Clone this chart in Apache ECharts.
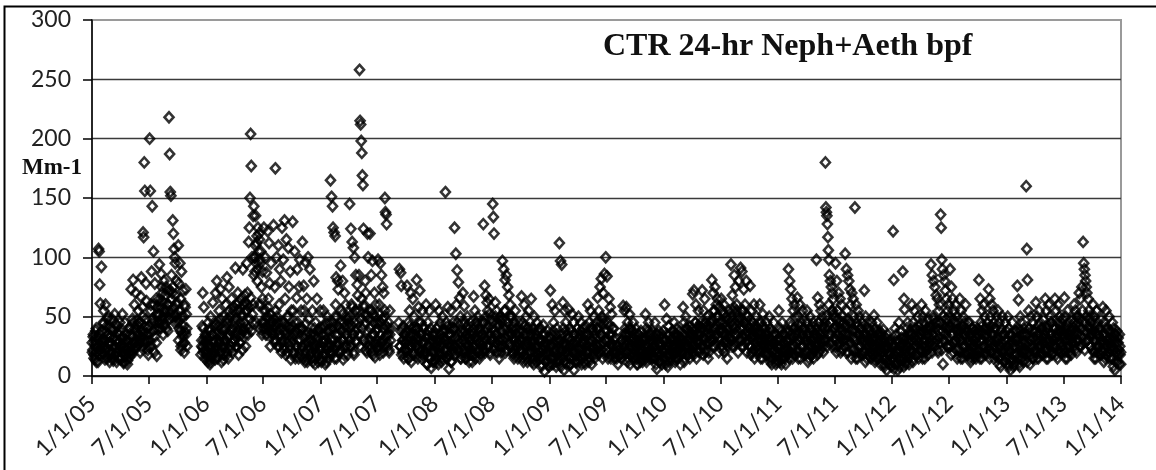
<!DOCTYPE html>
<html>
<head>
<meta charset="utf-8">
<script src="https://cdn.jsdelivr.net/npm/echarts@6/dist/echarts.min.js"></script>
<style>
html,body{margin:0;padding:0;background:#fff;}
#chart{width:1156px;height:470px;}
</style>
</head>
<body>
<div id="chart"></div>
<script>
// bpf values (Mm-1), one list per month (spread and peaks)
const d2005 = [
 [28,22,35,18,30,14,25,40,20,33,12,107,105,77,61,26,92],
 [38,24,45,55,18,30,60,22,42,15,35,50,27,12,40],
 [33,20,48,15,38,25,52,18,30,12,42,28,22,35,45],
 [25,15,32,52,20,12,28,45,18,35,22,10,30,40,16],
 [35,22,73,18,48,81,28,60,40,70,25,47,36,55,30],
 [45,20,67,83,38,58,121,117,180,156,30,78,63,40,22,18],
 [35,200,156,60,88,143,45,105,20,78,40,65,17,58,50],
 [45,94,62,40,86,75,50,35,80,44,55,68,40,72,38],
 [55,218,187,155,152,85,70,131,120,107,100,95,50,80,60],
 [48,110,78,40,95,65,22,88,36,27,72,50,20,60,37,73,52,25],
 [],
 [null,null,null,null,null,null,null,null,null,25,42,70,20,58,30,15,35,22]
];
const d2006 = [
 [18,30,12,45,25,38,10,50,22,15,35,62,28,20,42,14,70],
 [25,80,15,45,30,55,20,73,35,12,65,40,18,50,28],
 [30,60,20,83,45,15,75,35,50,25,65,40,20,55,30],
 [45,91,25,60,35,70,18,55,40,28,65,50,22,90,38],
 [40,68,25,55,95,60,35,113,125,150,204,177,100,45,135],
 [143,100,88,135,45,112,80,125,60,120,40,95,105,75,35,65],
 [45,125,40,100,55,87,35,122,65,112,78,25,95,45,38],
 [40,127,30,75,175,55,100,45,25,110,60,90,35,80,20,125],
 [45,98,25,131,65,35,115,50,20,108,75,40,88,14,55],
 [35,130,55,18,105,45,25,66,90,40,15,75,98,30,55],
 [40,113,25,76,55,12,96,35,65,15,100,48,25,90,35],
 [30,15,55,25,80,35,10,45,20,65,28,12,40,22,55]
];
const d2007 = [
 [25,12,40,30,55,18,35,10,45,22,50,15,28,38,20],
 [165,30,151,20,143,125,40,121,15,118,60,83,50,25,80,73,35],
 [40,20,93,55,30,80,14,45,70,25,60,35,50,18,42],
 [45,145,25,124,60,113,35,108,18,100,55,85,30,77,68],
 [45,85,258,215,212,198,188,169,161,124,60,30,80,70,50,20,120],
 [100,25,55,120,30,85,20,97,52,35,70,16,60,45,28],
 [40,98,25,60,18,95,45,85,30,75,20,70,50,150,138,136,128],
 [35,25,45,20,55,30,40,null,null,null,null,null,null,null,null],
 [null,null,null,45,90,25,87,76,40,20,30,15,35,22,28],
 [30,76,20,45,15,55,35,70,25,40,65,18,50,28,35],
 [25,81,40,15,58,30,72,20,45,35,55,18,40,28,22],
 [20,60,35,10,45,25,55,15,40,7,30,20,35,12,28]
];
const d2008 = [
 [25,60,15,40,30,10,55,20,45,35,12,50,28,18,38],
 [30,155,20,45,15,58,35,6,40,25,55,12,30,22,45],
 [40,125,25,103,60,89,30,79,20,66,50,15,45,35,70],
 [30,59,20,45,15,35,50,25,40,12,30,45,22,38,18],
 [35,67,25,55,15,45,30,50,20,40,28,45,18,35,25],
 [35,128,45,76,20,68,40,62,55,25,65,52,18,35,30],
 [40,145,134,120,25,62,35,55,20,45,30,15,50,25,38],
 [45,97,30,90,55,81,20,85,40,75,35,68,25,60,50],
 [35,50,20,45,15,30,55,25,40,18,35,28,45,22,30],
 [30,67,20,45,12,60,35,25,50,15,40,28,55,20,35],
 [25,65,15,40,30,10,50,20,35,12,45,25,30,18,40],
 [20,40,8,30,15,43,25,4,35,12,28,18,38,22,10]
];
const d2009 = [
 [25,72,15,35,60,10,45,20,55,30,8,40,18,28,12],
 [112,30,97,20,94,15,62,40,5,55,25,45,10,35,22],
 [25,56,15,40,10,30,52,20,45,5,35,18,28,12,40],
 [30,50,15,35,22,45,10,28,40,18,35,12,25,42,20],
 [35,60,20,45,15,55,30,10,40,25,50,18,35,22,45],
 [40,66,25,55,20,75,35,82,50,15,70,45,86,30,100],
 [30,84,45,20,65,35,58,15,52,25,40,20,30,15,25],
 [20,15,25,10,17,22,null,null,15,30,20,59,25,55,35],
 [30,58,20,45,15,35,52,10,40,25,30,18,45,22,35],
 [25,40,15,30,10,35,20,28,12,38,22,30,15,25,18],
 [30,52,15,40,25,20,45,35,15,30,22,38,18,28,25],
 [25,45,15,35,6,30,20,38,12,28,18,35,10,22,30]
];
const d2010 = [
 [20,60,30,12,48,25,8,42,18,35,15,30,22,38,25],
 [25,45,15,35,20,40,30,15,28,22,38,18,32,25,20],
 [30,58,20,45,15,50,25,40,35,18,30,42,22,35,28],
 [35,69,20,72,25,45,60,15,40,30,55,22,35,28,45],
 [40,72,25,55,30,65,20,45,35,50,15,40,28,45,35],
 [45,81,30,70,55,25,75,40,60,35,65,50,20,45,38],
 [40,65,25,55,35,60,20,45,30,50,15,40,28,55,35],
 [45,94,30,68,55,25,85,40,75,35,60,50,20,80,45],
 [40,91,30,88,55,25,73,45,60,35,80,20,50,30,45],
 [35,76,25,55,20,45,35,60,15,40,30,50,25,38,45],
 [30,60,20,45,35,15,52,25,40,30,20,35,45,25,30],
 [25,50,15,40,30,10,35,20,45,28,18,35,25,12,30]
];
const d2011 = [
 [25,55,15,40,30,10,45,20,35,28,15,38,22,30,18],
 [30,90,20,80,45,73,35,65,15,55,25,60,40,50,28],
 [35,66,20,50,30,60,15,45,25,55,35,40,20,30,45],
 [30,55,20,45,15,35,50,25,40,18,30,45,22,35,28],
 [35,98,25,66,45,20,60,35,55,30,50,25,40,30,45],
 [180,142,138,135,128,117,106,98,85,45,80,35,75,25,70,55,65,40,50],
 [40,95,30,80,55,25,70,45,65,20,60,35,50,30,45],
 [35,103,30,90,55,85,20,80,45,73,60,15,70,40,65,50],
 [30,142,20,60,45,15,55,35,50,25,40,30,45,20,35],
 [30,72,20,50,35,15,45,25,40,30,20,35,45,25,30],
 [25,51,15,40,30,20,45,35,15,28,38,22,30,25,35],
 [20,39,10,30,15,25,5,35,20,12,28,18,30,8,22]
];
const d2012 = [
 [15,122,81,25,40,10,35,20,5,30,45,15,25,38,12],
 [25,88,15,65,56,30,10,40,20,45,35,15,28,38,22],
 [30,60,20,45,15,55,25,40,35,18,50,28,42,22,35],
 [35,60,20,50,25,45,15,55,30,40,22,35,48,28,40],
 [40,94,30,85,50,80,25,75,45,68,35,65,20,55,60],
 [45,136,125,98,90,10,85,30,80,72,40,65,25,55,60,50],
 [40,90,25,75,35,65,20,55,45,60,30,50,15,40,35],
 [30,65,20,55,40,15,50,25,45,35,60,20,38,28,45],
 [30,45,15,35,20,40,25,15,30,38,22,35,18,28,40],
 [35,81,20,65,45,15,55,30,60,25,50,40,20,35,45],
 [40,73,25,65,50,20,60,35,55,15,45,30,40,25,50],
 [30,55,15,45,25,8,40,20,50,35,12,30,45,22,38]
];
const d2013 = [
 [25,50,10,40,20,5,35,15,45,30,8,25,38,18,30],
 [30,76,15,64,40,8,50,25,45,20,35,15,40,28,22],
 [35,160,107,81,20,55,40,10,50,30,45,15,25,38,20],
 [30,62,20,50,35,15,55,25,45,30,20,40,28,48,35],
 [35,65,20,55,40,15,60,30,50,25,45,35,20,42,30],
 [40,65,25,55,35,15,60,30,50,20,45,38,25,48,32],
 [35,66,20,50,40,15,55,25,45,30,20,38,28,48,35],
 [40,60,25,55,35,20,50,30,45,70,25,65,40,75,55],
 [113,95,90,85,80,75,70,30,65,55,40,50,25,45,35],
 [35,60,20,50,30,15,55,25,45,35,20,40,28,48,30],
 [30,58,20,45,35,15,55,25,40,30,20,50,28,38,25],
 [25,45,15,40,30,5,35,20,38,12,28,22,35,18,10]
];
// additional days inside the dense band of each month
const b2005 = [
 [20,33,15,27,38,12,24,31,18,36,22,29],[30,19,44,26,14,37,23,48,17,33,28,21],
 [18,27,40,13,32,24,44,20,36,15,29,38],[14,26,20,33,11,24,17,30,22,13,27,19],
 [25,40,20,33,45,28,22,38,30,43,26,35],[28,45,33,24,50,36,42,27,48,35,30,25],
 [42,30,55,25,48,38,60,33,45,28,52,40],[52,65,45,58,70,48,62,42,55,75,50,60],
 [60,48,72,55,65,50,75,58,45,68,52,62],[45,30,55,38,25,50,33,42,28,58,35,40],
 [],[null,null,null,null,null,18,30,24,40,22,33,28]
];
const b2006 = [
 [20,32,15,26,40,12,24,35,18,30,22,44],[22,35,16,42,28,48,20,33,25,38,14,30],
 [25,40,18,48,33,55,22,38,45,28,58,35],[30,48,25,55,38,62,28,45,35,52,40,60],
 [45,62,35,55,70,40,58,48,66,38,52,60],[85,100,110,95,118,90,105,115,98,60,45,88],
 [40,55,45,35,50,42,58,38,48,52,44,36],[35,48,28,42,30,50,38,25,45,33,40,28],
 [30,45,22,38,18,42,28,50,35,25,40,32],[28,42,20,35,15,38,25,45,30,18,40,22],
 [25,40,15,32,20,44,28,12,36,22,30,18],[20,35,12,28,40,15,25,32,18,38,22,14]
];
const b2007 = [
 [22,35,14,28,42,18,30,12,38,25,45,20],[25,40,18,45,30,22,50,35,15,28,42,20],
 [28,45,22,38,52,30,18,42,35,25,48,33],[30,50,25,42,58,35,20,45,38,55,28,40],
 [35,55,25,48,65,40,30,58,45,22,52,38],[30,48,22,40,55,35,18,45,28,50,38,25],
 [30,45,22,52,35,28,48,40,25,55,33,42],[28,40,22,35,null,null,null,null,null,null,null,null],
 [null,null,null,null,25,38,18,30,42,22,35,28],[22,38,15,30,42,25,12,35,28,20,40,32],
 [25,40,18,32,45,22,35,15,28,42,30,20],[18,32,10,25,38,15,28,22,35,12,30,20]
];
const b2008 = [
 [20,35,12,28,42,18,30,25,38,15,32,22],[22,38,15,30,42,18,28,35,12,25,40,20],
 [25,40,18,32,45,22,35,28,15,38,30,20],[22,38,15,28,42,20,32,25,18,35,30,12],
 [25,40,18,32,45,22,35,28,15,38,20,30],[28,45,22,38,50,30,25,42,35,20,48,32],
 [30,45,22,38,50,28,35,42,25,48,32,20],[30,48,25,40,55,32,22,45,38,28,50,35],
 [25,40,18,32,45,22,35,28,15,38,30,20],[22,38,15,30,42,18,28,35,12,25,40,20],
 [20,35,12,28,40,15,25,32,18,38,22,30],[15,30,10,22,35,18,28,12,25,32,20,8]
];
const b2009 = [
 [18,32,10,25,38,15,28,22,35,12,30,20],[15,30,8,22,35,18,28,12,25,38,20,32],
 [18,32,10,25,38,15,28,20,35,12,30,22],[18,32,12,25,38,15,28,22,35,10,30,20],
 [20,35,12,28,40,18,30,25,38,15,32,22],[25,40,18,32,45,22,35,28,48,20,38,30],
 [22,38,15,30,42,18,28,35,25,40,20,32],[null,null,null,null,null,null,18,30,22,35,28,40],
 [20,35,12,28,40,18,30,25,38,15,32,22],[18,30,10,25,35,15,28,20,32,12,22,30],
 [20,32,12,25,38,18,28,22,35,15,30,25],[15,30,10,22,35,18,28,12,25,32,20,38]
];
const b2010 = [
 [15,30,10,22,35,18,28,12,25,32,20,38],[18,30,12,25,35,15,28,22,32,10,20,28],
 [20,35,12,28,40,18,30,25,38,15,32,22],[25,40,18,32,45,22,35,28,42,20,38,30],
 [25,40,18,32,45,22,38,28,42,20,35,30],[30,48,25,40,55,35,28,50,42,32,58,38],
 [30,45,22,38,52,28,42,35,48,25,40,32],[32,50,25,42,58,35,45,28,55,38,48,30],
 [30,48,25,40,55,32,45,28,52,38,42,35],[25,40,18,32,45,22,38,28,42,20,35,30],
 [22,38,15,30,42,20,32,25,40,18,35,28],[18,32,12,25,38,15,28,22,35,10,30,20]
];
const b2011 = [
 [18,32,12,25,38,15,28,22,35,10,30,20],[22,38,15,30,42,20,32,25,40,18,35,28],
 [22,38,15,30,42,20,35,25,40,18,32,28],[20,35,12,28,40,18,30,25,38,15,32,22],
 [25,40,18,32,45,22,38,28,42,20,35,30],[30,50,25,42,60,35,45,28,55,38,52,32],
 [25,42,20,35,48,28,40,32,45,22,38,30],[25,42,20,35,48,30,40,28,45,22,38,32],
 [22,38,15,30,42,20,35,25,40,18,32,28],[20,35,12,28,40,18,30,25,38,15,32,22],
 [18,32,12,25,38,15,28,22,35,10,30,20],[15,28,8,22,32,12,25,18,30,10,20,26]
];
const b2012 = [
 [12,25,6,18,30,10,22,15,28,8,20,32],[15,28,8,22,32,12,25,18,30,10,20,35],
 [20,35,12,28,40,18,30,25,38,15,32,22],[22,38,15,30,42,20,35,25,40,18,32,28],
 [25,42,20,35,48,28,40,30,45,22,38,32],[28,45,22,38,50,30,42,35,48,25,40,32],
 [25,42,18,35,48,28,40,30,45,22,38,32],[22,38,15,30,42,20,35,25,40,18,32,28],
 [20,35,12,28,40,18,30,25,38,15,32,22],[22,38,15,30,42,20,35,25,40,18,32,28],
 [22,38,15,30,42,20,35,25,40,18,32,28],[18,32,10,25,38,15,28,22,35,12,30,20]
];
const b2013 = [
 [15,30,8,22,35,12,28,18,32,10,25,38],[18,32,10,25,38,15,28,22,35,12,30,20],
 [20,35,12,28,40,18,30,25,38,15,32,22],[22,38,15,30,42,20,35,25,40,18,32,28],
 [22,38,15,30,42,20,35,28,45,18,32,25],[25,40,18,32,45,22,38,28,42,20,35,30],
 [22,38,15,30,42,20,35,25,40,18,32,28],[28,45,22,38,50,30,42,35,48,25,40,32],
 [28,45,22,38,50,30,42,35,48,25,40,32],[22,38,15,30,42,20,35,25,40,18,32,28],
 [20,35,12,28,40,18,30,25,38,15,32,22],[15,30,8,22,35,12,28,18,32,10,25,20]
];
const years = [2005,2006,2007,2008,2009,2010,2011,2012,2013];
const yearData = [d2005,d2006,d2007,d2008,d2009,d2010,d2011,d2012,d2013];
const bandData = [b2005,b2006,b2007,b2008,b2009,b2010,b2011,b2012,b2013];
const xTickLabels = ['1/1/05','7/1/05','1/1/06','7/1/06','1/1/07','7/1/07','1/1/08','7/1/08','1/1/09','7/1/09','1/1/10','7/1/10','1/1/11','7/1/11','1/1/12','7/1/12','1/1/13','7/1/13','1/1/14'];
const yMin = 0, yMax = 300, yStep = 50;
const titleText = 'CTR 24-hr Neph+Aeth bpf';
const yUnit = 'Mm-1';

// x is expressed in days since 1/1/05; each monthly list is spread over its month
const DAY = 86400000;
const T0 = Date.UTC(2005, 0, 1);
const points = [];
function addSet(set){
  set.forEach(function(months, yi){
    const y = years[yi];
    months.forEach(function(list, m){
      const start = Date.UTC(y, m, 1);
      const end = Date.UTC(y, m + 1, 1);
      const n = list.length;
      list.forEach(function(v, i){
        if (v === null) return;
        const t = start + (i + 0.5) / n * (end - start);
        points.push([(t - T0) / DAY, v]);
      });
    });
  });
}
addSet(yearData);
addSet(bandData);
function parseLabel(s){
  const p = s.split('/');
  return (Date.UTC(2000 + parseInt(p[2],10), parseInt(p[0],10) - 1, parseInt(p[1],10)) - T0) / DAY;
}
const tickVals = xTickLabels.map(parseLabel);
const labelMap = {};
tickVals.forEach(function(t, i){ labelMap[t] = xTickLabels[i]; });

const chart = echarts.init(document.getElementById('chart'), null, {renderer:'canvas'});
chart.setOption({
  animation: false,
  backgroundColor: '#fff',
  grid: {left: 92, right: 35, top: 20, bottom: 94, show: true, borderColor: '#9a9a9a', borderWidth: 2, backgroundColor: '#fff'},
  xAxis: {
    type: 'value',
    min: tickVals[0], max: tickVals[tickVals.length-1],
    axisLine: {show: true, onZero: false, lineStyle: {color: '#000', width: 1.5}},
    axisTick: {show: true, length: 8, customValues: tickVals, lineStyle: {color: '#000', width: 1.5}},
    axisLabel: {
      customValues: tickVals, rotate: 45, margin: 24,
      fontFamily: 'Lato', fontSize: 23, color: '#222',
      formatter: function(v){ return labelMap[v] || ''; }
    },
    splitLine: {show: false}
  },
  yAxis: {
    type: 'value', min: yMin, max: yMax, interval: yStep,
    axisLine: {show: true, lineStyle: {color: '#000', width: 1.5}},
    axisTick: {show: true, length: 9, lineStyle: {color: '#000', width: 1.5}},
    axisLabel: {margin: 21, fontFamily: 'Lato', fontSize: 23, color: '#222'},
    splitLine: {show: true, showMaxLine: false, lineStyle: {color: '#3a3a3a', width: 1.4}}
  },
  graphic: [
    {type: 'rect', shape: {x: 4.5, y: 6.5, width: 1300, height: 600}, style: {fill: 'none', stroke: '#000', lineWidth: 2}, z: 100, silent: true},
    {type: 'text', left: 603, top: 31, style: {text: titleText, font: 'bold 32px "Liberation Serif"', fill: '#111'}, z: 100},
    {type: 'text', left: 22, top: 157, style: {text: yUnit, font: 'bold 23px "Liberation Serif"', fill: '#111'}, z: 100}
  ],
  series: [{
    type: 'scatter',
    data: points,
    symbol: 'diamond',
    symbolSize: [9, 10],
    itemStyle: {color: 'rgba(0,0,0,0)', borderColor: '#000', borderWidth: 2.6},
    large: false,
    silent: true
  }]
});
</script>
</body>
</html>
